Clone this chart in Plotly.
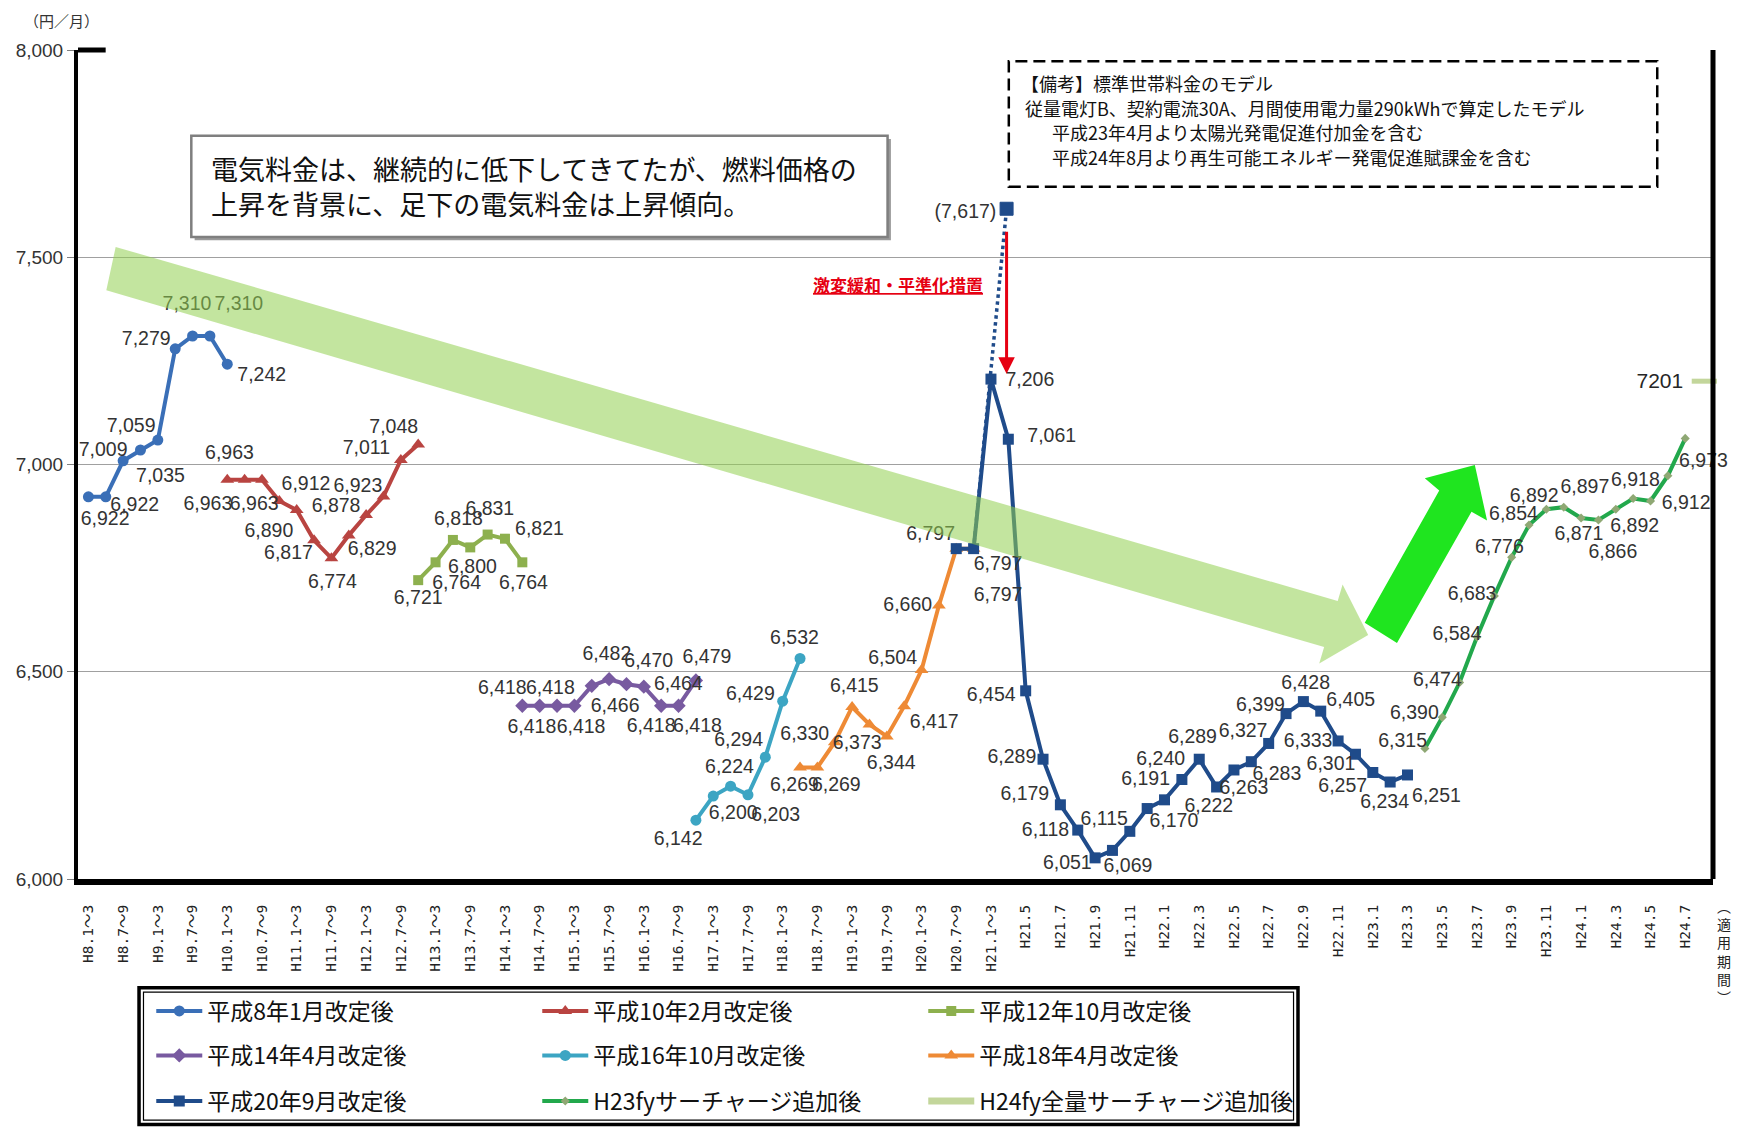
import plotly.graph_objects as go

# ---------------- data ----------------
TICK_LABELS = [
    "H8.1～3", "H8.7～9", "H9.1～3", "H9.7～9", "H10.1～3", "H10.7～9", "H11.1～3", "H11.7～9",
    "H12.1～3", "H12.7～9", "H13.1～3", "H13.7～9", "H14.1～3", "H14.7～9", "H15.1～3", "H15.7～9",
    "H16.1～3", "H16.7～9", "H17.1～3", "H17.7～9", "H18.1～3", "H18.7～9", "H19.1～3", "H19.7～9",
    "H20.1～3", "H20.7～9", "H21.1～3", "H21.5", "H21.7", "H21.9", "H21.11", "H22.1", "H22.3",
    "H22.5", "H22.7", "H22.9", "H22.11", "H23.1", "H23.3", "H23.5", "H23.7", "H23.9", "H23.11",
    "H24.1", "H24.3", "H24.5", "H24.7",
]

H08_START = 0
H08_VALUES = [6922, 6922, 7009, 7035, 7059, 7279, 7310, 7310, 7242]
H10_START = 8
H10_VALUES = [6963, 6963, 6963, 6912, 6890, 6817, 6774, 6829, 6878, 6923, 7011, 7048]
H12_START = 19
H12_VALUES = [6721, 6764, 6818, 6800, 6831, 6821, 6764]
H14_START = 25
H14_VALUES = [6418, 6418, 6418, 6418, 6466, 6482, 6470, 6464, 6418, 6418, 6479]
H16_START = 35
H16_VALUES = [6142, 6200, 6224, 6203, 6294, 6429, 6532]
H18_START = 41
H18_VALUES = [6269, 6269, 6330, 6415, 6373, 6344, 6417, 6504, 6660, 6797, 6797]
H20_START = 50
H20_VALUES = [6797, 6797, 7206, 7061, 6454, 6289, 6179, 6118, 6051, 6069, 6115, 6170, 6191,
              6240, 6289, 6222, 6263, 6283, 6327, 6399, 6428, 6405, 6333, 6301, 6257, 6234, 6251]
H23_START = 77
H23_VALUES = [6315, 6390, 6474, 6584, 6683, 6776, 6854, 6892, 6897, 6871, 6866, 6892, 6918,
              6912, 6973, 7063]
H24_X = [93.1]
H24_VALUES = [7201]
KAIHEN_X = [51, 52.9]          # 激変緩和前の料金（点線）
KAIHEN_VALUES = [6797, 7617]

SERIES_NAMES = ["平成8年1月改定後", "平成10年2月改定後", "平成12年10月改定後",
                "平成14年4月改定後", "平成16年10月改定後", "平成18年4月改定後",
                "平成20年9月改定後", "H23fyサーチャージ追加後", "H24fy全量サーチャージ追加後"]

# ---------------- layout geometry ----------------
W, H = 1744, 1127
ML, MR, MT, MB = 78, 31, 50, 248
PLOT_W = W - ML - MR
PLOT_H = H - MT - MB
X_RANGE = [-0.6, 93.6]
Y_RANGE = [6000, 8000]
S = 1744 / 1568          # reference-image px -> page px
PX_POS = PLOT_W / (X_RANGE[1] - X_RANGE[0])
PX_VAL = PLOT_H / (Y_RANGE[1] - Y_RANGE[0])


def paper_x(xs):
    return (xs * S - ML) / PLOT_W


def paper_y(ys):
    return (H - MB - ys * S) / PLOT_H


def cont_x(xs):
    return xs * S / W


def cont_y(ys):
    return 1 - ys * S / H


def data_x(xs):
    return X_RANGE[0] + paper_x(xs) * (X_RANGE[1] - X_RANGE[0])


def data_y(ys):
    return Y_RANGE[0] + paper_y(ys) * (Y_RANGE[1] - Y_RANGE[0])


NUM_FONT = "Liberation Sans Narrow, Arial Narrow, Liberation Sans, sans-serif"
JP_FONT = "Noto Sans CJK JP, sans-serif"

# label offsets (reference px: right, down) for each data point
OFF_H08 = [(15, 21), (26, 8), (-18, -9), (18, 24), (-24, -12), (-26, -8), (-5, -28), (26, -28), (31, 11)]
OFF_H10 = [(2, -23), (-33, 23), (-7, 23), (24, -14), (-25, 20), (-23, 12), (1, 22), (21, 13),
           (-27, -7), (-23, -8), (-31, -10), (-22, -15)]
OFF_H12 = [(0, 17), (19, 20), (5, -18), (2, 19), (2, -22), (31, -8), (1, 20)]
OFF_H14 = [(-18, -15), (-7, 20), (-6, -15), (6, 20), (21, 19), (-2, -22), (20, -20), (31, -1),
           (-9, 19), (17, 19), (10, -20)]
OFF_H16 = [(-16, 18), (18, 16), (-1, -16), (25, 19), (-24, -14), (-29, -5), (-5, -17)]
OFF_H18 = [(-5, 17), (17, 17), (-27, -6), (2, -18), (-11, 18), (4, 25), (27, 15), (-26, -10),
           (-28, 1), None, (22, 43)]
OFF_H20 = [(-23, -12), (22, 15), (35, 2), (39, -2), (-31, 5), (-28, -1), (-32, -9), (-29, 1),
           (-25, 6), (14, 15), (-23, -10), (24, 12), (-17, -18), (-19, -17), (-6, -19), (-7, 18),
           (9, 17), (23, 12), (-23, -10), (-23, -7), (2, -16), (27, -9), (-27, 1), (-22, 10),
           (-27, 13), (-5, 19), (26, 20)]
OFF_H23 = [(-20, -6), (-25, -3), (-20, -1), (-18, -2), (-20, -1), (-11, -8), (-14, -9), (-11, -11),
           (19, -17), (-2, 15), (13, 30), (17, 16), (2, -16), (32, 3), (32, -12), (34, 2)]

SERIES = [
    (SERIES_NAMES[0], H08_START, H08_VALUES, "#3A6FB7", "circle", 11, "legend", OFF_H08),
    (SERIES_NAMES[1], H10_START, H10_VALUES, "#B94441", "triangle-up", 12, "legend", OFF_H10),
    (SERIES_NAMES[2], H12_START, H12_VALUES, "#8DB04E", "square", 10, "legend", OFF_H12),
    (SERIES_NAMES[3], H14_START, H14_VALUES, "#785AA0", "diamond", 11, "legend2", OFF_H14),
    (SERIES_NAMES[4], H16_START, H16_VALUES, "#3CA5C3", "circle", 11, "legend2", OFF_H16),
    (SERIES_NAMES[5], H18_START, H18_VALUES, "#EE8A35", "triangle-up", 12, "legend2", OFF_H18),
    (SERIES_NAMES[6], H20_START, H20_VALUES, "#1F4B8A", "square", 11, "legend3", OFF_H20),
    (SERIES_NAMES[7], H23_START, H23_VALUES, "#22A84C", "diamond", 7, "legend3", OFF_H23),
]

fig = go.Figure()

lab_x, lab_y, lab_t = [], [], []
for name, start, vals, color, sym, msize, leg, offs in SERIES:
    xs = list(range(start, start + len(vals)))
    mcolor = "#8FA874" if name.startswith("H23") else color
    fig.add_trace(go.Scatter(
        x=xs, y=vals, mode="lines+markers", name=name, legend=leg,
        line=dict(color=color, width=4),
        marker=dict(symbol=sym, size=msize, color=mcolor, line=dict(width=0)),
        hoverinfo="x+y",
    ))
    for xv, yv, off in zip(xs, vals, offs):
        if off is None:
            continue
        lab_x.append(xv + off[0] * S / PX_POS)
        lab_y.append(yv - off[1] * S / PX_VAL)
        lab_t.append(f"{yv:,}")

# dotted line up to the pre-mitigation price
fig.add_trace(go.Scatter(
    x=KAIHEN_X, y=KAIHEN_VALUES, mode="lines", showlegend=False,
    line=dict(color="#1F4B8A", width=3.5, dash="dot"), hoverinfo="skip",
))
fig.add_trace(go.Scatter(
    x=KAIHEN_X[-1:], y=KAIHEN_VALUES[-1:], mode="markers", showlegend=False,
    marker=dict(symbol="square", size=13, color="#1F4B8A", opacity=1, line=dict(width=1, color="#1F4B8A")),
    hoverinfo="x+y",
))
lab_x.append(KAIHEN_X[-1] - 37 * S / PX_POS)
lab_y.append(KAIHEN_VALUES[-1] - 4 * S / PX_VAL)
lab_t.append(f"({KAIHEN_VALUES[-1]:,})")

# H24fy point
fig.add_trace(go.Scatter(
    x=H24_X, y=H24_VALUES, mode="lines+markers", name=SERIES_NAMES[8], legend="legend3",
    line=dict(color="#C3D69B", width=7),
    marker=dict(symbol="line-ew", size=18, color="#C3D69B", line=dict(width=5, color="#C3D69B")),
    cliponaxis=False, hoverinfo="x+y",
))

# data labels
fig.add_trace(go.Scatter(
    x=lab_x, y=lab_y, text=lab_t, mode="text", showlegend=False, hoverinfo="skip",
    textposition="middle center", cliponaxis=False,
    textfont=dict(family=NUM_FONT, size=19.5, color="#333333"),
))
fig.add_trace(go.Scatter(
    x=[H24_X[0] - 40 * S / PX_POS], y=[H24_VALUES[0] - 1.5 * S / PX_VAL],
    text=[str(H24_VALUES[0])], mode="text", showlegend=False, hoverinfo="skip",
    textfont=dict(family="Liberation Sans, Arial, sans-serif", size=21, color="#262626"),
    cliponaxis=False,
))

# big translucent downward trend arrow (drawn over the lines)
BAND_REF = [(104, 222), (1202.7, 540.3), (1207.1, 525.5), (1230.1, 570.9),
            (1186.1, 596.5), (1190.5, 581.7), (95.6, 261)]
fig.add_trace(go.Scatter(
    x=[data_x(p[0]) for p in BAND_REF] + [data_x(BAND_REF[0][0])],
    y=[data_y(p[1]) for p in BAND_REF] + [data_y(BAND_REF[0][1])],
    mode="lines", fill="toself", fillcolor="rgba(146,208,80,0.55)",
    line=dict(width=0, color="rgba(0,0,0,0)"), showlegend=False, hoverinfo="skip",
))
# bright green upward arrow
UP_REF = [(1227, 560), (1294, 441), (1281, 430), (1326, 418), (1337, 468), (1323, 460), (1256, 578)]
fig.add_trace(go.Scatter(
    x=[data_x(p[0]) for p in UP_REF] + [data_x(UP_REF[0][0])],
    y=[data_y(p[1]) for p in UP_REF] + [data_y(UP_REF[0][1])],
    mode="lines", fill="toself", fillcolor="#1FE51F",
    line=dict(width=0, color="rgba(0,0,0,0)"), showlegend=False, hoverinfo="skip",
))

# ---------------- shapes ----------------
shapes = []
# right frame + top stub
shapes.append(dict(type="line", xref="paper", yref="paper", x0=1, x1=1, y0=0, y1=1,
                   line=dict(color="black", width=5)))
shapes.append(dict(type="line", xref="paper", yref="paper", x0=0, x1=paper_x(95), y0=1, y1=1,
                   line=dict(color="black", width=5)))
# message box with shadow
shapes.append(dict(type="rect", xref="paper", yref="paper", layer="above",
                   x0=paper_x(175), x1=paper_x(801), y0=paper_y(216), y1=paper_y(125),
                   fillcolor="#9A9A9A", line=dict(width=0)))
shapes.append(dict(type="rect", xref="paper", yref="paper", layer="above",
                   x0=paper_x(172), x1=paper_x(798), y0=paper_y(213), y1=paper_y(122),
                   fillcolor="white", line=dict(color="#7F7F7F", width=2.5)))
# notes dashed box
shapes.append(dict(type="rect", xref="paper", yref="paper", layer="above",
                   x0=paper_x(907), x1=paper_x(1490), y0=paper_y(168), y1=paper_y(55),
                   fillcolor="white", line=dict(color="black", width=2.5, dash="12px,6px")))
# legend frame (double border)
shapes.append(dict(type="rect", xref="paper", yref="paper",
                   x0=paper_x(125), x1=paper_x(1167), y0=paper_y(1011), y1=paper_y(888),
                   line=dict(color="black", width=3.5)))
shapes.append(dict(type="rect", xref="paper", yref="paper",
                   x0=paper_x(129), x1=paper_x(1163), y0=paper_y(1007), y1=paper_y(892),
                   line=dict(color="black", width=1.2)))

# ---------------- annotations ----------------
ann = []
ann.append(dict(xref="paper", yref="paper", x=paper_x(188), y=paper_y(167), xanchor="left",
                yanchor="middle", align="left", showarrow=False,
                text="電気料金は、継続的に低下してきてたが、燃料価格の<br>上昇を背景に、足下の電気料金は上昇傾向。",
                font=dict(family=JP_FONT, size=27, color="#111111")))
NOTES = [("【備考】標準世帯料金のモデル", 916, 75),
         ("従量電灯B、契約電流30A、月間使用電力量290kWhで算定したモデル", 920, 97),
         ("平成23年4月より太陽光発電促進付加金を含む", 944, 119),
         ("平成24年8月より再生可能エネルギー発電促進賦課金を含む", 944, 141)]
for t, xs, ys in NOTES:
    ann.append(dict(xref="paper", yref="paper", x=paper_x(xs), y=paper_y(ys), xanchor="left",
                    yanchor="middle", showarrow=False, text=t,
                    font=dict(family=JP_FONT, size=18, color="#111111")))
# red mitigation arrow
ann.append(dict(xref="x", yref="y", axref="x", ayref="y", x=KAIHEN_X[-1], y=data_y(336),
                ax=KAIHEN_X[-1], ay=data_y(207), text="", showarrow=True, arrowhead=2,
                arrowsize=1.1, arrowwidth=3, arrowcolor="#E60012"))
ann.append(dict(xref="paper", yref="paper", x=paper_x(886), y=paper_y(256), xanchor="right",
                yanchor="middle", showarrow=False, text="<u><b>激変緩和・平準化措置</b></u>",
                font=dict(family=JP_FONT, size=17, color="#E60012")))
# unit
ann.append(dict(xref="paper", yref="paper", x=paper_x(20), y=paper_y(18), xanchor="left",
                yanchor="middle", showarrow=False, text="（円／月）",
                font=dict(family=JP_FONT, size=15, color="#333333")))
# axis caption on the right
ann.append(dict(xref="paper", yref="paper", x=paper_x(1550), y=paper_y(804), xanchor="center",
                yanchor="top", showarrow=False, text="︵<br>適<br>用<br>期<br>間<br>︶",
                font=dict(family=JP_FONT, size=14, color="#222222")))

LEG_COMMON = dict(orientation="h", xanchor="left", yanchor="middle", xref="container",
                  yref="container", x=cont_x(136),
                  font=dict(family=JP_FONT, size=23, color="#111111"), itemwidth=46,
                  bgcolor="rgba(0,0,0,0)", entrywidth=325, entrywidthmode="pixels")

fig.update_layout(
    width=W, height=H,
    margin=dict(l=ML, r=MR, t=MT, b=MB, autoexpand=False),
    paper_bgcolor="white", plot_bgcolor="white",
    shapes=shapes, annotations=ann,
    legend=dict(**LEG_COMMON, y=cont_y(909)),
    legend2=dict(**LEG_COMMON, y=cont_y(949)),
    legend3=dict(**LEG_COMMON, y=cont_y(990)),
    xaxis=dict(range=X_RANGE, tickmode="array", tickvals=[2 * i for i in range(len(TICK_LABELS))],
               ticktext=TICK_LABELS, tickangle=-90, ticks="", showgrid=False, zeroline=False,
               showline=True, linecolor="black", linewidth=6, ticklabelstandoff=14,
               automargin=False,
               tickfont=dict(family="DejaVu Sans Mono, Noto Sans CJK JP, monospace", size=14.5,
                             color="#222222")),
    yaxis=dict(range=Y_RANGE, tickmode="array", tickvals=[6000, 6500, 7000, 7500, 8000],
               ticktext=["6,000", "6,500", "7,000", "7,500", "8,000"], ticks="outside",
               ticklen=7, tickcolor="#808080", showgrid=True, gridcolor="#A0A0A0", gridwidth=1.3,
               zeroline=False, showline=True, linecolor="black", linewidth=4, automargin=False,
               tickfont=dict(family=NUM_FONT, size=19, color="#333333")),
    showlegend=True,
)

fig.write_html("out.html")
